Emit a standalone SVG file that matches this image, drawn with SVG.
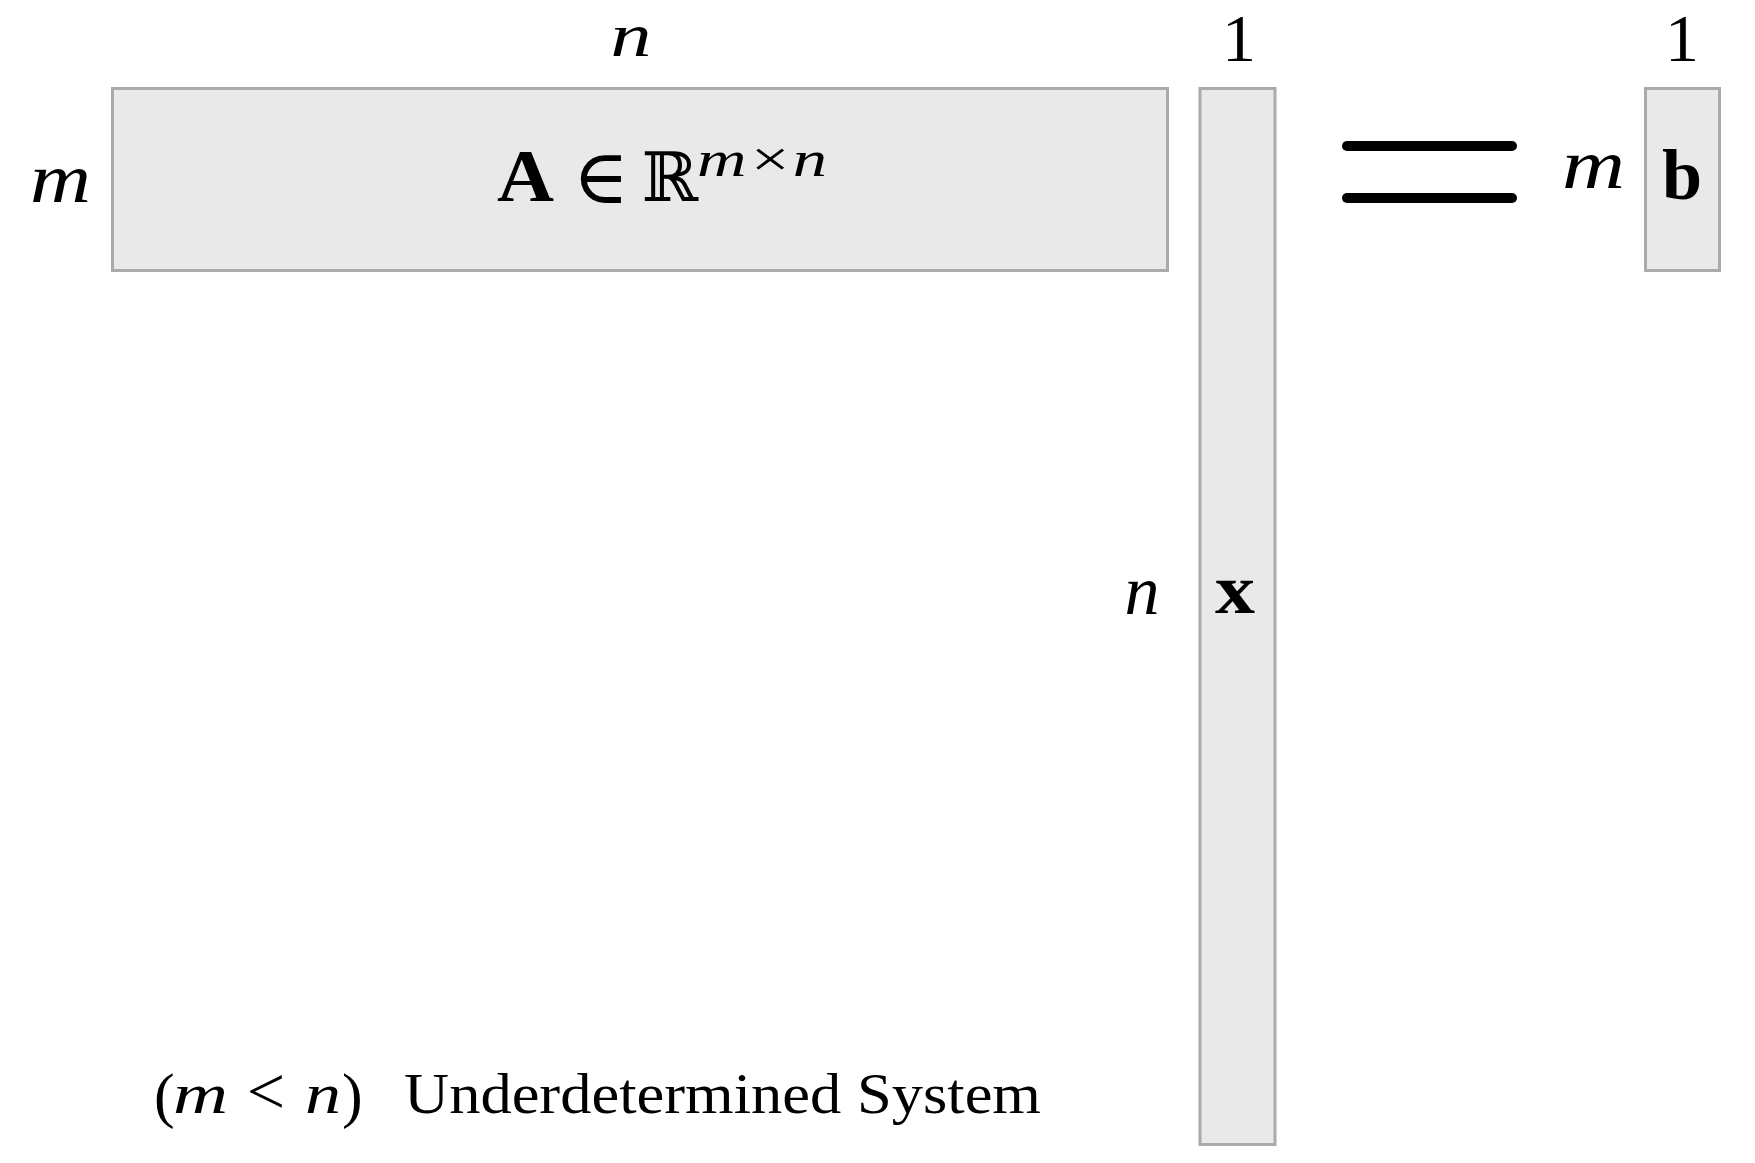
<svg xmlns="http://www.w3.org/2000/svg" width="1755" height="1163" viewBox="0 0 1755 1163">
<style>
.mat{fill:#e9e9e9;stroke:#adaaa9;stroke-width:3}
.it{font-family:"Liberation Serif","DejaVu Serif",serif;font-style:italic;fill:#000}
.rm{font-family:"Liberation Serif","DejaVu Serif",serif;fill:#000}
.bf{font-family:"Liberation Serif","DejaVu Serif",serif;font-weight:bold;fill:#000}
.eq{stroke:#000;stroke-width:10;stroke-linecap:round}
</style>
<rect width="1755" height="1163" fill="#fff"/>
<g id="matrixA">
<rect class="mat" x="112.5" y="88.5" width="1055" height="182"/>
<text class="bf" x="497" y="201" font-size="74" textLength="57" lengthAdjust="spacingAndGlyphs">A</text>
<text class="rm" x="601" y="203" font-size="76" text-anchor="middle">∈</text>
<text x="670" y="201" font-size="68" text-anchor="middle" font-family="DejaVu Serif,serif">ℝ</text>
<text class="it" x="697" y="176" font-size="50" textLength="130" lengthAdjust="spacingAndGlyphs">m×n</text>
</g>
<g id="vectorX">
<rect class="mat" x="1200" y="88.5" width="75" height="1056"/>
<text class="bf" x="1235" y="613" font-size="70" text-anchor="middle" textLength="40" lengthAdjust="spacingAndGlyphs">x</text>
</g>
<g id="vectorB">
<rect class="mat" x="1645.5" y="88.5" width="74" height="182"/>
<text class="bf" x="1682" y="199" font-size="72" text-anchor="middle">b</text>
</g>
<g id="equals">
<line class="eq" x1="1347" y1="146" x2="1512" y2="146"/>
<line class="eq" x1="1347" y1="198" x2="1512" y2="198"/>
</g>
<g id="labels">
<text class="it" x="631" y="55.5" font-size="62" text-anchor="middle" textLength="41" lengthAdjust="spacingAndGlyphs">n</text>
<text class="rm" x="1239" y="61" font-size="68" text-anchor="middle">1</text>
<text class="rm" x="1682" y="61" font-size="68" text-anchor="middle">1</text>
<text class="it" x="30" y="202" font-size="70" textLength="61" lengthAdjust="spacingAndGlyphs">m</text>
<text class="it" x="1142" y="614" font-size="70" text-anchor="middle">n</text>
<text class="it" x="1562" y="188" font-size="70" textLength="63" lengthAdjust="spacingAndGlyphs">m</text>
<text class="rm" x="154" y="1116" font-size="62">(</text>
<text class="it" x="173" y="1113" font-size="58" textLength="55" lengthAdjust="spacingAndGlyphs">m</text>
<text class="rm" x="266" y="1114" font-size="68" text-anchor="middle">&lt;</text>
<text class="it" x="305" y="1113" font-size="58" textLength="36" lengthAdjust="spacingAndGlyphs">n</text>
<text class="rm" x="342" y="1116" font-size="62">)</text>
<text class="rm" x="404" y="1113" font-size="58" textLength="637" lengthAdjust="spacingAndGlyphs">Underdetermined System</text>
</g>
</svg>
